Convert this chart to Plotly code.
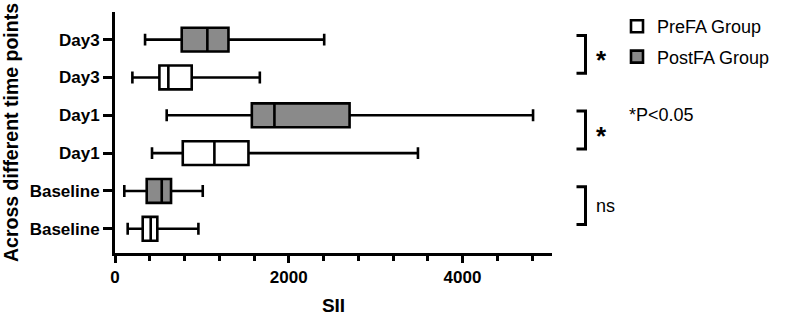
import plotly.graph_objects as go

# ---- data ----
time_labels = ["Baseline", "Day1", "Day3"]
group_names = ["PreFA Group", "PostFA Group"]

pre_lower = [146, 426, 200]
pre_q1 = [319, 780, 511]
pre_median = [411, 1144, 614]
pre_q3 = [487, 1536, 883]
pre_upper = [960, 3487, 1667]

post_lower = [107, 595, 346]
post_q1 = [365, 1575, 768]
post_median = [538, 1835, 1063]
post_q3 = [645, 2700, 1306]
post_upper = [1010, 4812, 2408]

comparison_labels = ["ns", "*", "*"]
note_text = "*P<0.05"
x_tick_values = [0, 2000, 4000]
x_title = "SII"
y_title = "Across different time points"

# ---- layout helpers ----
W, H = 789, 316
ML, MR, MT, MB = 115, 237, 12, 63
PW = W - ML - MR


def px_to_paper_x(px):
    return (px - ML) / PW


pre_pos = [2 * i for i in range(len(time_labels))]
post_pos = [2 * i + 1 for i in range(len(time_labels))]
tick_pos = []
tick_text = []
for i, lab in enumerate(time_labels):
    tick_pos += [2 * i, 2 * i + 1]
    tick_text += [lab, lab]

FONT = "Liberation Sans, Arial, sans-serif"
LINE_W = 2.6

fig = go.Figure()
fig.add_trace(go.Box(
    y=pre_pos, q1=pre_q1, median=pre_median, q3=pre_q3,
    lowerfence=pre_lower, upperfence=pre_upper,
    orientation="h", name=group_names[0], legendgroup="pre",
    fillcolor="white", line=dict(color="black", width=LINE_W),
    width=0.63, whiskerwidth=0.5, boxpoints=False, hoverinfo="x",
))
fig.add_trace(go.Box(
    y=post_pos, q1=post_q1, median=post_median, q3=post_q3,
    lowerfence=post_lower, upperfence=post_upper,
    orientation="h", name=group_names[1], legendgroup="post",
    fillcolor="#8a8a8a", line=dict(color="black", width=LINE_W),
    width=0.63, whiskerwidth=0.5, boxpoints=False, hoverinfo="x",
))

# comparison brackets
bx0 = px_to_paper_x(576.5)
bx1 = px_to_paper_x(585.5)
off = 0.11
shapes = []
annotations = []
for i, lab in enumerate(comparison_labels):
    top = 2 * i + 1 + off
    bot = 2 * i + off
    shapes.append(dict(
        type="path", xref="paper", yref="y",
        path=f"M {bx0},{top} L {bx1},{top} L {bx1},{bot} L {bx0},{bot}",
        line=dict(color="black", width=3),
    ))
    mid = (top + bot) / 2
    if lab == "*":
        annotations.append(dict(
            x=px_to_paper_x(601), y=mid, xref="paper", yref="y",
            text="<b>*</b>", showarrow=False, xanchor="center", yanchor="middle",
            yshift=-6, font=dict(family=FONT, size=26, color="black"),
        ))
    else:
        annotations.append(dict(
            x=px_to_paper_x(594), y=mid, xref="paper", yref="y",
            text=lab, showarrow=False, xanchor="left", yanchor="middle",
            font=dict(family=FONT, size=18, color="black"),
        ))
annotations.append(dict(
    x=px_to_paper_x(627), y=3, xref="paper", yref="y",
    text=note_text, showarrow=False, xanchor="left", yanchor="middle",
    font=dict(family=FONT, size=18, color="black"),
))

fig.update_layout(
    width=W, height=H,
    margin=dict(l=ML, r=MR, t=MT, b=MB),
    paper_bgcolor="white", plot_bgcolor="white",
    boxmode="overlay",
    font=dict(family=FONT, color="black"),
    showlegend=True,
    legend=dict(
        xref="container", yref="container",
        x=617 / W, y=1 - 8 / H, xanchor="left", yanchor="top",
        font=dict(family=FONT, size=18, color="black"),
        tracegroupgap=4, itemwidth=30, bgcolor="rgba(0,0,0,0)",
    ),
    shapes=shapes,
    annotations=annotations,
    xaxis=dict(
        range=[0, 5030], showgrid=False, zeroline=False,
        showline=True, linecolor="black", linewidth=3,
        tickmode="linear", tick0=0, dtick=2000,
        ticks="outside", ticklen=7, tickwidth=3, tickcolor="black",
        tickfont=dict(family=FONT, size=17, color="black", weight="bold"),
        minor=dict(tickmode="linear", tick0=0, dtick=400, ticks="outside",
                   ticklen=5, tickwidth=2.5, tickcolor="black", showgrid=False),
        title=dict(text=x_title, font=dict(family=FONT, size=19, color="black", weight="bold"),
                   standoff=18),
        automargin=False,
    ),
    yaxis=dict(
        range=[-0.64, 5.73], showgrid=False, zeroline=False,
        showline=True, linecolor="black", linewidth=3,
        tickmode="array", tickvals=tick_pos, ticktext=tick_text,
        ticks="outside", ticklen=9, tickwidth=3, tickcolor="black",
        tickfont=dict(family=FONT, size=17, color="black", weight="bold"),
        title=dict(text=y_title, font=dict(family=FONT, size=19.5, color="black", weight="bold"),
                   standoff=10),
        automargin=False,
    ),
)

fig.write_html(
    "out.html",
    config={"displayModeBar": False},
    post_script="document.body.style.margin='0';document.body.style.padding='0';",
)
